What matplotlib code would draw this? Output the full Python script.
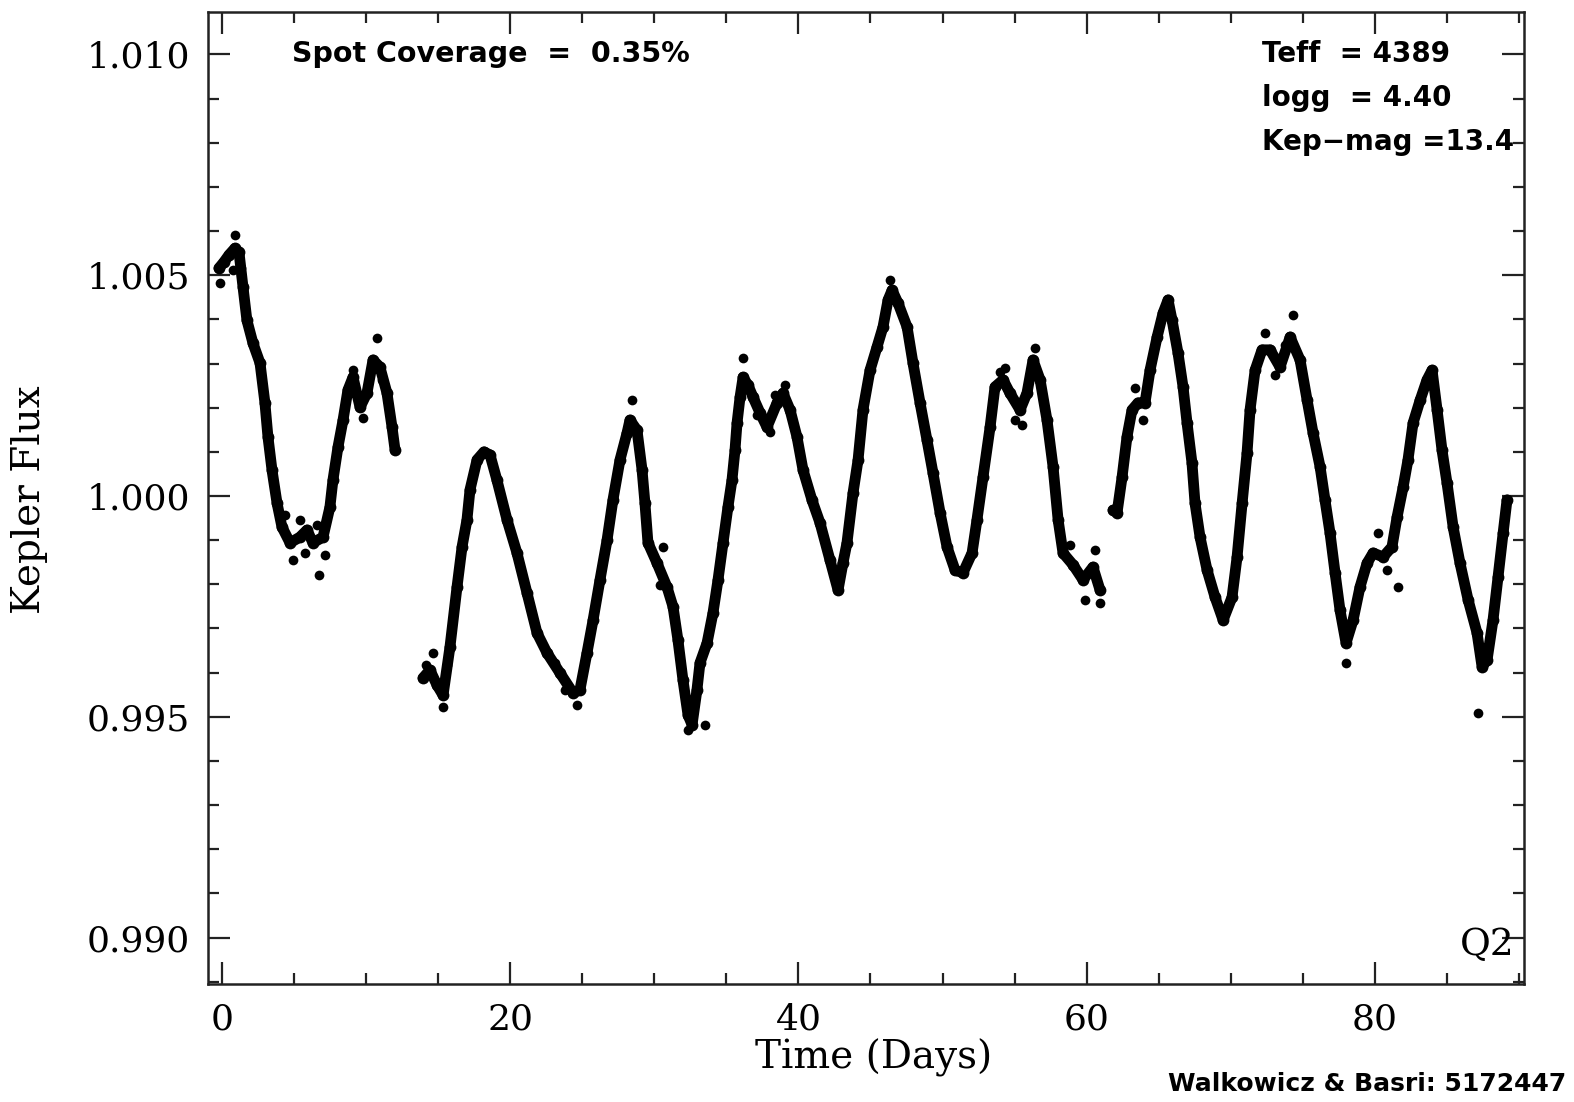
import matplotlib
matplotlib.use("Agg")
import matplotlib.pyplot as plt
from matplotlib.ticker import MultipleLocator, FormatStrFormatter

# Kepler Q2 light curve of KIC 5172447, read in three uninterrupted stretches
t_seg1 = [-0.21, 0.14, 0.49, 0.90, 1.18, 1.46, 1.73, 2.15, 2.64, 2.98, 3.19, 3.47,
          3.82, 4.16, 4.72, 5.41, 5.90, 6.31, 7.01, 7.49, 7.70, 8.05, 8.40, 8.74,
          9.09, 9.58, 10.06, 10.48, 10.96, 11.45, 11.80, 12.01]
f_seg1 = [1.00516, 1.00530, 1.00546, 1.00561, 1.00552, 1.00473, 1.00398, 1.00346,
          1.00301, 1.00211, 1.00134, 1.00059, 0.99984, 0.99930, 0.99894, 0.99907,
          0.99923, 0.99894, 0.99907, 0.99975, 1.00036, 1.00111, 1.00172, 1.00240,
          1.00269, 1.00201, 1.00233, 1.00308, 1.00292, 1.00233, 1.00156, 1.00104]

t_seg2 = [13.95, 14.43, 14.92, 15.34, 15.82, 16.31, 16.66, 17.00, 17.21, 17.70,
          18.18, 18.60, 19.08, 19.78, 20.47, 21.17, 21.86, 22.55, 23.46, 24.36,
          24.84, 25.33, 25.75, 26.23, 26.72, 27.13, 27.62, 28.11, 28.31, 28.80,
          29.15, 29.35, 29.56, 30.19, 30.88, 31.30, 31.64, 31.99, 32.34, 32.62,
          32.96, 33.17, 33.66, 34.07, 34.42, 34.77, 35.11, 35.39, 35.60, 35.74,
          35.95, 36.16, 36.50, 36.85, 37.34, 37.82, 38.52, 38.93, 39.42, 39.90,
          40.32, 40.94, 41.50, 42.19, 42.75, 43.09, 43.37, 43.79, 44.14, 44.48,
          44.97, 45.45, 45.87, 46.22, 46.50, 46.91, 47.54, 47.95, 48.44, 48.92,
          49.34, 49.83, 50.31, 50.87, 51.42, 52.05, 52.39, 52.81, 53.30, 53.64,
          54.20, 54.68, 55.38, 55.86, 56.28, 56.77, 57.25, 57.67, 58.02, 58.36,
          59.06, 59.75, 60.44, 60.93]
f_seg2 = [0.99588, 0.99606, 0.99572, 0.99549, 0.99658, 0.99794, 0.99885, 0.99946,
          1.00014, 1.00082, 1.00100, 1.00093, 1.00036, 0.99946, 0.99871, 0.99780,
          0.99690, 0.99645, 0.99599, 0.99554, 0.99561, 0.99645, 0.99719, 0.99810,
          0.99900, 0.99991, 1.00082, 1.00143, 1.00172, 1.00149, 1.00059, 0.99984,
          0.99894, 0.99848, 0.99794, 0.99749, 0.99674, 0.99583, 0.99504, 0.99482,
          0.99561, 0.99622, 0.99667, 0.99735, 0.99810, 0.99894, 0.99975, 1.00036,
          1.00104, 1.00165, 1.00224, 1.00269, 1.00251, 1.00224, 1.00188, 1.00156,
          1.00211, 1.00233, 1.00195, 1.00134, 1.00059, 0.99991, 0.99939, 0.99855,
          0.99787, 0.99848, 0.99894, 1.00007, 1.00082, 1.00195, 1.00285, 1.00337,
          1.00383, 1.00444, 1.00466, 1.00437, 1.00383, 1.00301, 1.00211, 1.00127,
          1.00052, 0.99962, 0.99885, 0.99832, 0.99826, 0.99871, 0.99946, 1.00043,
          1.00156, 1.00247, 1.00263, 1.00233, 1.00195, 1.00233, 1.00308, 1.00263,
          1.00172, 1.00066, 0.99946, 0.99871, 0.99844, 0.99810, 0.99839, 0.99787]

t_seg3 = [61.83, 62.11, 62.46, 62.80, 63.15, 63.57, 64.05, 64.40, 64.89, 65.30,
          65.65, 65.93, 66.34, 66.69, 66.97, 67.31, 67.52, 67.87, 68.36, 68.91,
          69.47, 70.09, 70.44, 70.79, 71.13, 71.34, 71.69, 72.17, 72.73, 73.42,
          74.12, 74.81, 75.30, 75.71, 76.20, 76.54, 76.89, 77.24, 77.58, 78.00,
          78.49, 78.97, 79.46, 79.88, 80.57, 81.19, 81.54, 81.96, 82.30, 82.65,
          83.14, 83.62, 83.97, 84.32, 84.66, 85.01, 85.43, 85.91, 86.47, 87.09,
          87.44, 87.79, 88.20, 88.55, 88.90, 89.17]
f_seg3 = [0.99968, 0.99962, 1.00043, 1.00134, 1.00195, 1.00211, 1.00211, 1.00285,
          1.00360, 1.00414, 1.00444, 1.00398, 1.00324, 1.00247, 1.00165, 1.00075,
          0.99984, 0.99907, 0.99832, 0.99771, 0.99719, 0.99771, 0.99862, 0.99984,
          1.00097, 1.00195, 1.00285, 1.00331, 1.00331, 1.00292, 1.00360, 1.00308,
          1.00217, 1.00143, 1.00066, 0.99991, 0.99916, 0.99826, 0.99742, 0.99667,
          0.99719, 0.99794, 0.99848, 0.99871, 0.99862, 0.99885, 0.99952, 1.00020,
          1.00082, 1.00165, 1.00217, 1.00263, 1.00285, 1.00195, 1.00104, 1.00029,
          0.99930, 0.99848, 0.99765, 0.99690, 0.99613, 0.99629, 0.99719, 0.99817,
          0.99916, 0.99991]

# scattered cadences lying off the smooth trend
t_scatter = [-0.14, 0.90, 0.76, 1.32, 4.37, 4.93, 5.76, 5.41, 6.59, 7.15, 6.73,
             9.09, 10.76, 9.78, 11.10, 14.64, 15.34, 14.16, 15.61, 23.80, 24.64,
             23.11, 28.48, 30.60, 30.40, 33.52, 32.34, 36.16, 37.13, 38.03, 38.38,
             39.07, 46.36, 53.99, 54.34, 55.03, 55.52, 56.42, 58.85, 59.89, 60.58,
             60.93, 63.36, 63.91, 72.38, 73.07, 73.77, 74.32, 80.22, 81.60, 80.85,
             78.00, 87.16]
f_scatter = [1.00482, 1.00591, 1.00512, 1.00516, 0.99957, 0.99855, 0.99871, 0.99946,
             0.99934, 0.99866, 0.99821, 1.00285, 1.00358, 1.00177, 1.00263, 0.99645,
             0.99522, 0.99617, 0.99617, 0.99561, 0.99527, 0.99622, 1.00218, 0.99885,
             0.99799, 0.99482, 0.99470, 1.00312, 1.00183, 1.00145, 1.00229, 1.00251,
             1.00489, 1.00281, 1.00290, 1.00172, 1.00161, 1.00335, 0.99889, 0.99765,
             0.99878, 0.99758, 1.00245, 1.00172, 1.00369, 1.00274, 1.00342, 1.00410,
             0.99916, 0.99794, 0.99832, 0.99622, 0.99509]

x_ticks = [0, 20, 40, 60, 80]
y_ticks = [0.990, 0.995, 1.000, 1.005, 1.010]

W, H = 1574, 1102
fig = plt.figure(figsize=(W / 100, H / 100), dpi=100)
ax = fig.add_axes([208 / W, 1 - 984 / H, (1524 - 208) / W, (984 - 12) / H])

for t, f in ((t_seg1, f_seg1), (t_seg2, f_seg2), (t_seg3, f_seg3)):
    ax.plot(t, f, color="black", lw=7.8, solid_capstyle="round",
            solid_joinstyle="round", marker="o", ms=8.5, mew=0)
ax.plot(t_scatter, f_scatter, ls="none", color="black", marker="o", ms=7.0, mew=0)

ax.set_xlim(-0.97, 90.35)
ax.set_ylim(0.98895, 1.01096)
ax.set_xticks(x_ticks)
ax.set_yticks(y_ticks)
ax.xaxis.set_minor_locator(MultipleLocator(5))
ax.yaxis.set_minor_locator(MultipleLocator(0.001))
ax.yaxis.set_major_formatter(FormatStrFormatter("%.3f"))

serif = "DejaVu Serif"
ax.tick_params(which="both", direction="in", top=True, right=True,
               color="#222222", width=1.6)
ax.tick_params(which="major", length=16)
ax.tick_params(which="minor", length=8)
ax.tick_params(axis="y", which="major", pad=13)
ax.tick_params(axis="x", which="major", pad=13)
for lab in ax.get_xticklabels() + ax.get_yticklabels():
    lab.set_fontfamily(serif)
    lab.set_fontsize(26)
for sp in ax.spines.values():
    sp.set_linewidth(1.8)
    sp.set_color("#222222")

fig.text(30 / W, 1 - 500 / H, "Kepler Flux", rotation=90, ha="center", va="center",
         fontsize=28, family=serif)
fig.text(874 / W, 1 - 1058 / H, "Time (Days)", ha="center", va="center",
         fontsize=28, family=serif)

sans = "DejaVu Sans"
fig.text(292 / W, 1 - 54 / H, "Spot Coverage  =  0.35%", ha="left", va="center",
         fontsize=20.5, family=sans, weight="bold")
for i, s in enumerate(["Teff  = 4389", "logg  = 4.40", "Kep\u2212mag =13.4"]):
    fig.text(1262 / W, 1 - (54 + 44 * i) / H, s, ha="left", va="center",
             fontsize=20, family=sans, weight="bold")
fig.text(1514 / W, 1 - 945 / H, "Q2", ha="right", va="center",
         fontsize=27, family=serif)
fig.text(1566 / W, 1 - 1084 / H, "Walkowicz & Basri: 5172447", ha="right",
         va="center", fontsize=18, family=sans, weight="bold")

fig.savefig("out.png", dpi=100)
